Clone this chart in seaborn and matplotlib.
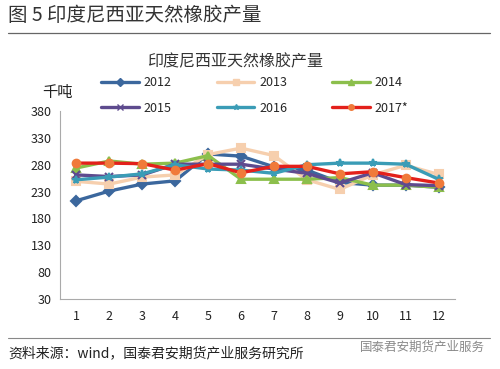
import pandas as pd
import seaborn as sns
import matplotlib.pyplot as plt
from matplotlib.lines import Line2D

months = list(range(1, 13))
years = ['2012', '2013', '2014', '2015', '2016', '2017*']
v2012 = [213, 231, 244, 250, 300, 296, 276, 270, 247, 242, 242, 238]
v2013 = [249, 244, 257, 261, 299, 311, 297, 252, 234, 261, 279, 262]
v2014 = [274, 287, 281, 283, 297, 253, 253, 253, 256, 242, 242, 238]
v2015 = [261, 258, 261, 281, 281, 281, 272, 264, 246, 265, 243, 241]
v2016 = [252, 257, 263, 280, 272, 270, 264, 280, 283, 283, 281, 253]
v2017 = [283, 283, 282, 270, 282, 265, 277, 277, 263, 267, 256, 246]
yticks = [30, 80, 130, 180, 230, 280, 330, 380]

colors = ['#3B679D', '#F6CFAE', '#8CBF4C', '#5E4B8E', '#3A9CB6', '#E3201B']
markers = ['D', 's', '^', 'x', '*', 'o']
mfc = ['#3B679D', '#F6CFAE', '#8CBF4C', '#5E4B8E', '#3A9CB6', '#F07A3A']

df = pd.DataFrame({'month': months * 6,
                   'value': v2012 + v2013 + v2014 + v2015 + v2016 + v2017,
                   'year': [y for y in years for _ in months]})

sns.set_style('white')
plt.rcParams['font.family'] = ['Noto Sans CJK SC', 'DejaVu Sans']

fig = plt.figure(figsize=(5, 3.69), dpi=100)
ax = fig.add_axes([0.12, 0.19, 0.79, 0.509])

for i, yr in enumerate(years):
    sub = df[df['year'] == yr]
    sns.lineplot(data=sub, x='month', y='value', ax=ax, color=colors[i],
                 linewidth=2.4, marker=markers[i], markersize=5.5,
                 markerfacecolor=mfc[i], markeredgecolor=mfc[i], markeredgewidth=1.5,
                 label=yr, legend=False)

ax.set_xlim(0.5, 12.5)
ax.set_ylim(30, 380)
ax.set_yticks(yticks)
ax.set_xticks(months)
ax.set_xticks([m + 0.5 for m in range(0, 13)], minor=True)
ax.tick_params(axis='x', which='major', length=0, labelsize=9, pad=8, colors='#222222')
ax.tick_params(axis='x', which='minor', length=4, width=0.8, color='#999999', direction='out')
ax.tick_params(axis='y', length=3, width=0.8, labelsize=9, pad=3, colors='#222222', direction='out')
ax.tick_params(axis='y', color='#999999')
ax.set_xlabel('')
ax.set_ylabel('')
for s in ['top', 'right']:
    ax.spines[s].set_visible(False)
for s in ['left', 'bottom']:
    ax.spines[s].set_color('#AAAAAA')
    ax.spines[s].set_linewidth(0.8)

handles = [Line2D([], [], color=colors[i], linewidth=2.4, marker=markers[i], markersize=4,
                  markerfacecolor=mfc[i], markeredgecolor=mfc[i]) for i in range(6)]
# legend rows in Excel order: row-major
fig.legend([handles[0], handles[3], handles[1], handles[4], handles[2], handles[5]],
           [years[0], years[3], years[1], years[4], years[2], years[5]],
           ncol=3, loc='center', bbox_to_anchor=(0.51, 0.741), frameon=False,
           fontsize=9, handlelength=3.0, columnspacing=3.6, handletextpad=0.4,
           labelspacing=1.0)

fig.text(0.47, 0.832, '印度尼西亚天然橡胶产量', ha='center', va='center', fontsize=11.5, color='#333333')
fig.text(0.115, 0.748, '千吨', ha='center', va='center', fontsize=11, color='#222222')

fig.text(0.016, 0.958, '图 5 印度尼西亚天然橡胶产量', ha='left', va='center', fontsize=14,
         color='#333333', fontweight='light')
fig.add_artist(Line2D([0.016, 0.98], [0.91, 0.91], color='#666666', linewidth=0.9))
fig.add_artist(Line2D([0.016, 0.98], [0.084, 0.084], color='#888888', linewidth=0.8))
fig.text(0.016, 0.042, '资料来源：wind，国泰君安期货产业服务研究所', ha='left', va='center',
         fontsize=10, color='#222222')
fig.text(0.97, 0.06, '国泰君安期货产业服务', ha='right', va='center', fontsize=9, color='#8A8A8A')

fig.savefig('out.png', dpi=100)
